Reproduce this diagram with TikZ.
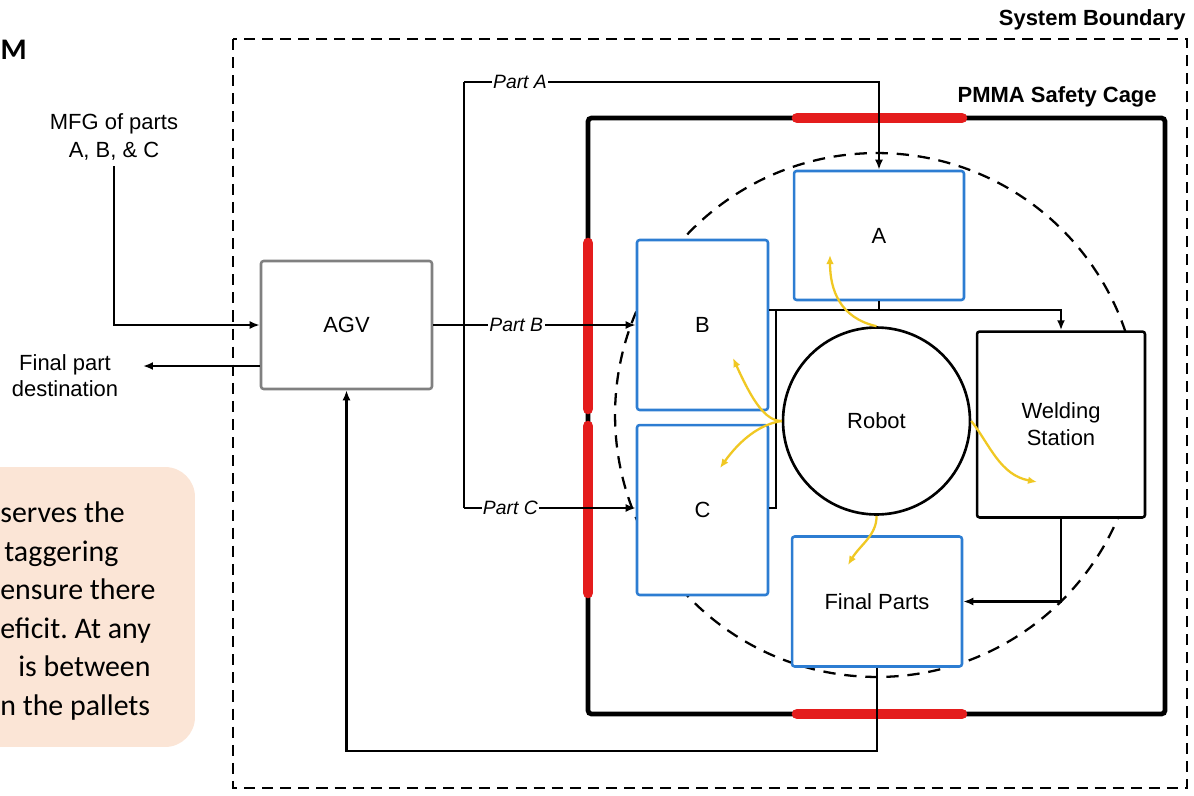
\documentclass[tikz,border=0pt]{standalone}
\usepackage{fontspec}
\setmainfont{Liberation Sans}
\newfontfamily\notefont{Carlito}
\usetikzlibrary{arrows.meta}
\definecolor{boxblue}{RGB}{45,125,210}
\definecolor{sealred}{RGB}{228,28,28}
\definecolor{grabyellow}{RGB}{240,200,35}
\definecolor{notepeach}{RGB}{251,229,214}
\definecolor{agvgray}{RGB}{128,128,128}
\begin{document}
\begin{tikzpicture}[x=0.02cm, y=-0.02cm,
    lbl/.style={font=\fontsize{12.5}{15.5}\selectfont, align=center},
    bluebox/.style={lbl, draw=boxblue, line width=1.45pt, fill=white, rounded corners=1.5pt, inner sep=0pt},
    blackbox/.style={lbl, draw=black, line width=1.45pt, fill=white, rounded corners=1.5pt, inner sep=0pt},
    partlbl/.style={font=\fontsize{11}{13}\selectfont\itshape, fill=white, inner sep=0.8pt},
    notetxt/.style={font=\notefont\fontsize{17}{21}\selectfont, inner sep=0pt},
    flow/.style={line width=1.3pt, -{Latex[length=2mm,width=1.6mm]}},
    grab/.style={draw=grabyellow, line width=1.3pt, -{Latex[length=1.8mm,width=1.5mm]}},
    seal/.style={draw=sealred, line width=6pt, line cap=round},
  ]
  \useasboundingbox (0,0) rectangle (1194,795);

  % 系统边界
  \draw[line width=1.5pt, dash pattern=on 6.3pt off 4pt] (233,39) rectangle (1187,788);
  \node[font=\fontsize{12.5}{15}\selectfont\bfseries, anchor=base east, inner sep=0pt] (sysLbl) at (1186,25) {System Boundary};

  % 标题
  \node[font=\notefont\fontsize{17}{20}\selectfont\bfseries, anchor=base east, inner sep=0pt] (title) at (27,59) {M};

  % 说明框
  \node[fill=notepeach, rounded corners=17pt, minimum width=4.5cm, minimum height=5.6cm] (note) at (82.5,607) {};
  \foreach \nx/\ny/\ntext in {0/522/{serves the}, 4/561/{taggering}, 0/599/{ensure there},
                               0/638/{eficit.\ At any}, 18/676/{is between}, 0/715/{n the pallets}}
    \node[notetxt, anchor=base west] (note\ny) at (\nx,\ny) {\ntext};

  % 安全笼
  \draw[line width=2.7pt, rounded corners=2pt] (588,118) rectangle (1165,714);
  \node[font=\fontsize{12.5}{15}\selectfont\bfseries, anchor=base east, inner sep=0pt] (cageLbl) at (1157,102) {PMMA Safety Cage};
  \draw[seal] (797,118) -- (962,118);
  \draw[seal] (797,714) -- (962,714);
  \draw[seal] (588,243) -- (588,409);
  \draw[seal] (588,426) -- (588,593);

  % 机器人工作范围
  \draw[line width=1.3pt, dash pattern=on 7pt off 5pt] (877,415) circle[radius=5.24cm];

  % 工位
  \node[lbl, draw=agvgray, line width=1.45pt, rounded corners=1.5pt, minimum width=3.42cm, minimum height=2.56cm] (agv) at (346.5,325) {AGV};
  \node[bluebox, minimum width=3.4cm, minimum height=2.58cm] (boxA) at (879,235.5) {A};
  \node[bluebox, minimum width=2.62cm, minimum height=3.4cm] (boxB) at (702.5,325) {B};
  \node[bluebox, minimum width=2.62cm, minimum height=3.4cm] (boxC) at (702.5,510) {C};
  \node[bluebox, minimum width=3.4cm, minimum height=2.6cm] (fin) at (877,601.5) {Final Parts};
  \node[blackbox, minimum width=3.36cm, minimum height=3.72cm] (weld) at (1061,424.5) {Welding\\Station};
  \node[lbl, circle, draw, line width=1.5pt, fill=white, minimum size=3.74cm, inner sep=0pt] (robot) at (876.5,421) {Robot};

  % 外部
  \node[lbl] (mfg) at (114,137) {MFG of parts\\A, B, \& C};
  \node[lbl, font=\fontsize{12.5}{14.8}\selectfont] (dest) at (65,376) {Final part\\destination};
  \draw[flow] (mfg.south) |- (agv.west);
  \coordinate (destTip) at (143,366);
  \draw[flow] (agv.west |- destTip) -- (destTip);

  % 零件进料
  \coordinate (pa) at (464,82);
  \coordinate (pc) at (464,508);
  \draw[line width=1.3pt] (pa) -- (pc);
  \draw[flow] (pa) -- node[partlbl, pos=0.135] {Part A} (pa -| boxA) -- (boxA.north);
  \draw[flow] (agv.east) -- node[partlbl, pos=0.41] {Part B} (boxB.west);
  \draw[flow] (pc) -- node[partlbl, pos=0.27] {Part C} (pc -| boxC.west);

  % 工位之间
  \coordinate (cvA) at (879,310);
  \draw[line width=1.3pt] (boxA.south) -- (cvA);
  \draw[flow] (boxB.east |- cvA) -- (cvA -| weld) -- (weld.north);
  \coordinate (cvC) at (776,508);
  \draw[line width=1.3pt] (776,310) -- (cvC) -- (cvC -| boxC.east);
  \draw[flow] (weld.south) -- (weld.south |- fin.east) -- (fin.east);
  \draw[flow] (fin.south) -- ++(0,83) -| (agv.south);

  % 机器人动作
  \draw[grab] (robot.north) .. controls (840,318) and (830,290) .. (830,255);
  \draw[grab] (robot.west) .. controls (765,421) and (752,400) .. (733,358);
  \draw[grab] (robot.west) .. controls (760,424) and (740,440) .. (720,468);
  \draw[grab] (robot.east) .. controls (990,445) and (1000,475) .. (1037,482);
  \draw[grab] (robot.south) .. controls (877,535) and (860,545) .. (848,565);
\end{tikzpicture}
\end{document}
